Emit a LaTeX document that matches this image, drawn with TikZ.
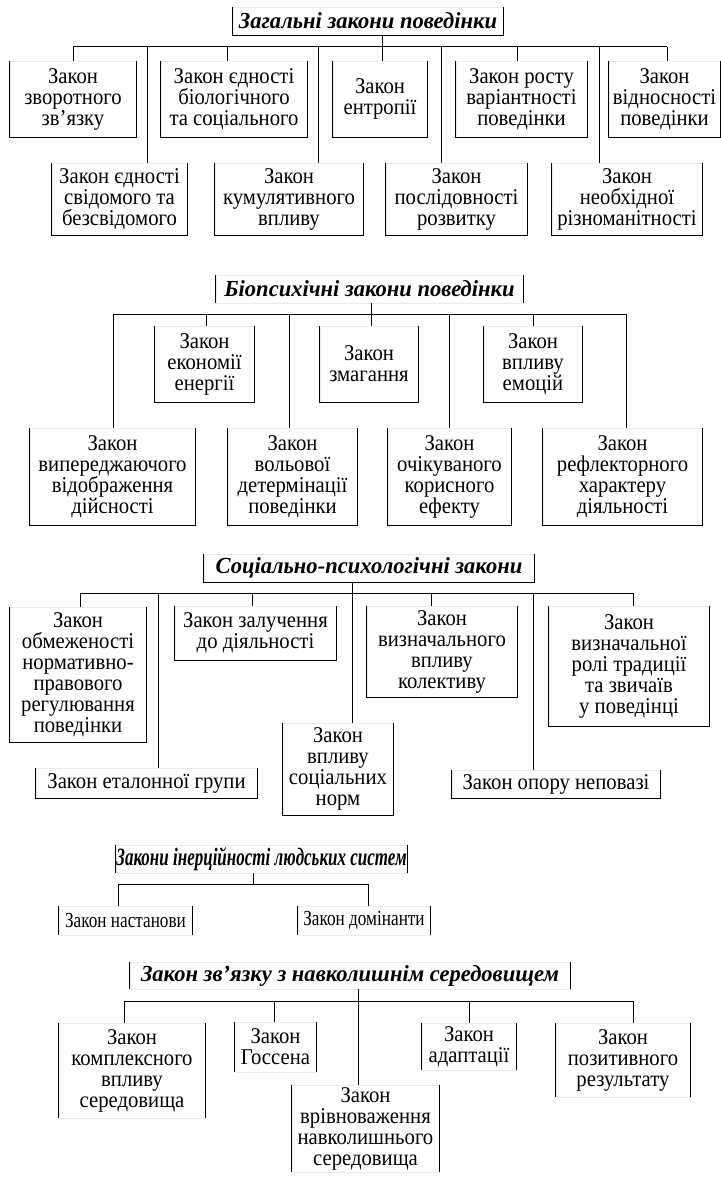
\documentclass[tikz,border=0pt]{standalone}
\usepackage{fontspec}
\setmainfont{Liberation Serif}
\newfontfamily\lawfam[FakeStretch=0.92]{Liberation Serif}
\newfontfamily\titlefam[FakeStretch=0.98]{Liberation Serif}
\newfontfamily\condlawfam[FakeStretch=0.8]{Liberation Serif}
\newfontfamily\condtitlefam[FakeStretch=0.68]{Liberation Serif}
\newcommand\lawfont{\fontsize{22.5}{21}\selectfont\lawfam\lineskiplimit=-100pt\relax}
\newcommand\titlefont{\fontsize{23}{24}\selectfont\titlefam\bfseries\itshape}
\newcommand\condlawfont{\fontsize{21.5}{21}\selectfont\condlawfam}
\newcommand\condtitlefont{\fontsize{25}{26}\selectfont\condtitlefam\bfseries\itshape}
\tikzset{
  lawbox/.style={draw=black!8, line width=0.5pt, inner sep=0pt, align=center, font=\lawfont},
  titlebox/.style={draw=black!8, line width=0.5pt, inner sep=0pt, align=center, font=\titlefont},
  edge/.style={line width=1pt, draw=black},
}
\newcommand\sidesLRB[1]{\draw[edge] (#1.north west) -- (#1.south west) -- (#1.south east) -- (#1.north east);}
\newcommand\sidesLR[1]{\draw[edge] (#1.north west) -- (#1.south west) (#1.south east) -- (#1.north east);}
\begin{document}
\begin{tikzpicture}[x=1pt,y=-1pt]
\useasboundingbox[fill=white] (0,0) rectangle (720,1177);

% ---------------- Section 1 ----------------
\node[titlebox, minimum width=270pt, minimum height=28pt] (t1) at (368,21) {Загальні закони поведінки};
\node[lawbox, minimum width=126pt, minimum height=76pt] (a1) at (73,99) {Закон\\зворотного\\зв’язку};
\node[lawbox, minimum width=146pt, minimum height=76pt] (a2) at (234,99) {Закон єдності\\біологічного\\та соціального};
\node[lawbox, minimum width=94pt, minimum height=76pt] (a3) at (380,99) {Закон\\ентропії};
\node[lawbox, minimum width=131pt, minimum height=76pt] (a4) at (521.5,99) {Закон росту\\варіантності\\поведінки};
\node[lawbox, minimum width=111pt, minimum height=76pt] (a5) at (664.5,99) {Закон\\відносності\\поведінки};
\node[lawbox, minimum width=135pt, minimum height=72pt] (b1) at (119.5,199) {Закон єдності\\свідомого та\\безсвідомого};
\node[lawbox, minimum width=148pt, minimum height=72pt] (b2) at (289,199) {Закон\\кумулятивного\\впливу};
\node[lawbox, minimum width=141pt, minimum height=72pt] (b3) at (456.5,199) {Закон\\послідовності\\розвитку};
\node[lawbox, minimum width=150pt, minimum height=72pt] (b4) at (627,199) {Закон\\необхідної\\різноманітності};
\foreach \n in {t1,a1,a2,a3,a4,a5,b1,b2,b3,b4} {\sidesLRB{\n}}
\coordinate (bus1L) at (73,47);
\coordinate (bus1R) at (667,47);
\draw[edge] (bus1L) -- (bus1R);
\coordinate (j1) at (382,47);
\draw[edge] (j1 |- t1.south) -- (j1 |- a3.north);
\foreach \n/\x in {a1/73,a2/227,a4/517,a5/667,b1/147,b2/318,b3/441,b4/599} {
  \coordinate (s\n) at (\x,47);
  \draw[edge] (s\n) -- (s\n |- \n.north);
}

% ---------------- Section 2 ----------------
\node[titlebox, minimum width=307pt, minimum height=28pt] (t2) at (369.5,289) {Біопсихічні закони поведінки};
\node[lawbox, minimum width=99pt, minimum height=76pt] (c1) at (204.5,364) {Закон\\економії\\енергії};
\node[lawbox, minimum width=98pt, minimum height=76pt] (c2) at (369,364) {Закон\\змагання};
\node[lawbox, minimum width=98pt, minimum height=76pt] (c3) at (533,364) {Закон\\впливу\\емоцій};
\node[lawbox, minimum width=165pt, minimum height=97pt] (d1) at (112.5,476.5) {Закон\\випереджаючого\\відображення\\дійсності};
\node[lawbox, minimum width=129pt, minimum height=97pt] (d2) at (292.5,476.5) {Закон\\вольової\\детермінації\\поведінки};
\node[lawbox, minimum width=123pt, minimum height=97pt] (d3) at (449.5,476.5) {Закон\\очікуваного\\корисного\\ефекту};
\node[lawbox, minimum width=159pt, minimum height=97pt] (d4) at (622.5,476.5) {Закон\\рефлекторного\\характеру\\діяльності};
\sidesLR{t2}
\foreach \n in {c1,c2,c3,d1,d2,d3,d4} {\sidesLRB{\n}}
\coordinate (bus2L) at (113,314);
\coordinate (bus2R) at (626,314);
\draw[edge] (bus2L) -- (bus2R);
\coordinate (j2) at (371,314);
\draw[edge] (j2 |- t2.south) -- (j2 |- c2.north);
\foreach \n/\x in {c1/206,c3/533,d1/113,d2/289,d3/449,d4/626} {
  \coordinate (s\n) at (\x,314);
  \draw[edge] (s\n) -- (s\n |- \n.north);
}

% ---------------- Section 3 ----------------
\node[titlebox, minimum width=330pt, minimum height=28pt] (t3) at (369,568) {Соціально-психологічні закони};
\node[lawbox, minimum width=136pt, minimum height=135pt] (e1) at (78,674.5) {Закон\\обмеженості\\нормативно-\\правового\\регулювання\\поведінки};
\node[lawbox, minimum width=161pt, minimum height=54pt] (e2) at (255.5,633) {Закон залучення\\до діяльності};
\node[lawbox, minimum width=150pt, minimum height=91pt] (e3) at (442,651.5) {Закон\\визначального\\впливу\\колективу};
\node[lawbox, minimum width=160pt, minimum height=120pt] (e4) at (629,666) {Закон\\визначальної\\ролі традиції\\та звичаїв\\у поведінці};
\node[lawbox, minimum width=221pt, minimum height=30pt] (f1) at (146.5,783) {Закон еталонної групи};
\node[lawbox, minimum width=110pt, minimum height=92pt] (f2) at (338,769) {Закон\\впливу\\соціальних\\норм};
\node[lawbox, minimum width=208pt, minimum height=28pt] (f3) at (556,784) {Закон опору неповазі};
\foreach \n in {t3,e1,e2,e3,e4,f1,f2,f3} {\sidesLRB{\n}}
\coordinate (bus3L) at (80,593);
\coordinate (bus3R) at (633,593);
\draw[edge] (bus3L) -- (bus3R);
\coordinate (j3) at (352,593);
\draw[edge] (j3 |- t3.south) -- (j3 |- f2.north);
\foreach \n/\x in {e1/80,e2/252,e3/431,e4/633,f1/158,f3/533} {
  \coordinate (s\n) at (\x,593);
  \draw[edge] (s\n) -- (s\n |- \n.north);
}

% ---------------- Section 4 ----------------
\node[titlebox, font=\condtitlefont, minimum width=291pt, minimum height=28pt] (t4) at (261.5,859) {Закони інерційності людських систем};
\node[lawbox, font=\condlawfont, minimum width=133pt, minimum height=29pt] (g1) at (125.5,920.5) {Закон настанови};
\node[lawbox, font=\condlawfont, minimum width=132pt, minimum height=29pt] (g2) at (364,920.5) {Закон домінанти};
\foreach \n in {t4,g1,g2} {\sidesLR{\n}}
\coordinate (bus4L) at (118,884);
\coordinate (bus4R) at (368,884);
\draw[edge] (bus4L) -- (bus4R);
\coordinate (j4) at (253,884);
\draw[edge] (j4 |- t4.south) -- (j4);
\draw[edge] (bus4L) -- (bus4L |- g1.north);
\draw[edge] (bus4R) -- (bus4R |- g2.north);

% ---------------- Section 5 ----------------
\node[titlebox, minimum width=440pt, minimum height=27pt] (t5) at (350,975.5) {Закон зв’язку з навколишнім середовищем};
\node[lawbox, minimum width=146pt, minimum height=95pt] (h1) at (132,1070.5) {Закон\\комплексного\\впливу\\середовища};
\node[lawbox, minimum width=81pt, minimum height=50pt] (h2) at (275.5,1047) {Закон\\Госсена};
\node[lawbox, minimum width=147pt, minimum height=87pt] (h3) at (365.5,1128.5) {Закон\\врівноваження\\навколишнього\\середовища};
\node[lawbox, minimum width=94pt, minimum height=47pt] (h4) at (469,1046.5) {Закон\\адаптації};
\node[lawbox, minimum width=134pt, minimum height=74pt] (h5) at (623,1060) {Закон\\позитивного\\результату};
\foreach \n in {t5,h1,h2,h3,h4,h5} {\sidesLR{\n}}
\coordinate (bus5L) at (124,1001);
\coordinate (bus5R) at (633,1001);
\draw[edge] (bus5L) -- (bus5R);
\coordinate (j5) at (358,1001);
\draw[edge] (j5 |- t5.south) -- (j5 |- h3.north);
\foreach \n/\x in {h1/124,h2/274,h4/469,h5/633} {
  \coordinate (s\n) at (\x,1001);
  \draw[edge] (s\n) -- (s\n |- \n.north);
}
\end{tikzpicture}
\end{document}
